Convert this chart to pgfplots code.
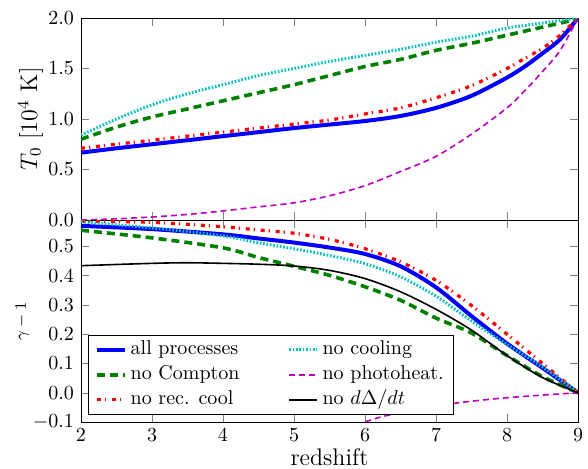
\documentclass[border=0pt]{standalone}
\usepackage{pgfplots}
\pgfplotsset{compat=1.18}
\definecolor{mplgreen}{rgb}{0,0.5,0}
\definecolor{mplcyan}{rgb}{0,0.75,0.75}
\definecolor{mplmag}{rgb}{0.75,0,0.75}
\tikzset{
  allp/.style={blue, line width=2pt},
  nocomp/.style={mplgreen, line width=1.8pt, dash pattern=on 4pt off 2.5pt},
  norec/.style={red, line width=1.6pt, dash pattern=on 2pt off 2pt on 0.6pt off 2.9pt},
  nocool/.style={mplcyan, line width=1.5pt, dash pattern=on 0.8pt off 0.9pt},
  nophot/.style={mplmag, line width=0.8pt, dash pattern=on 3pt off 2pt},
  nodd/.style={black, line width=0.8pt},
}
\pgfplotsset{
  panel/.style={
    width=248.5pt, height=101pt, scale only axis,
    xmin=2, xmax=9, xtick={2,3,4,5,6,7,8,9},
    tick align=inside, major tick length=4pt,
    yticklabel style={/pgf/number format/.cd, fixed, fixed zerofill, precision=1},
    every axis plot/.append style={smooth, tension=0.5},
  }
}
\begin{document}
\begin{tikzpicture}
% upper panel: T_0
\begin{axis}[panel, at={(0pt,101pt)}, ymin=0, ymax=2, ytick={0,0.5,1,1.5,2},
  xticklabels={},
  ylabel={$T_0\ [10^4\ \mathrm{K}]$},
  every axis y label/.style={at={(axis description cs:-0.0885,0.5)}, rotate=90, anchor=base, font=\large}]
\addplot[allp] coordinates {(2,0.667) (2.5,0.71) (3,0.75) (3.5,0.79) (4,0.83) (4.5,0.87) (5,0.91) (5.5,0.945) (6,0.98) (6.5,1.03) (7,1.11) (7.5,1.23) (8,1.41) (8.25,1.52) (8.5,1.65) (8.75,1.79) (9,2.0)};
\addplot[nocomp] coordinates {(2,0.80) (2.5,0.92) (3,1.02) (3.5,1.10) (4,1.18) (4.5,1.26) (5,1.34) (5.5,1.43) (6,1.52) (6.5,1.59) (7,1.68) (7.5,1.75) (8,1.83) (8.5,1.91) (9,1.99)};
\addplot[norec] coordinates {(2,0.71) (2.5,0.75) (3,0.79) (3.5,0.83) (4,0.87) (4.5,0.91) (5,0.95) (5.5,0.99) (6,1.05) (6.5,1.11) (7,1.21) (7.5,1.33) (8,1.50) (8.25,1.60) (8.5,1.70) (8.75,1.83) (9,2.0)};
\addplot[nocool] coordinates {(2,0.84) (2.5,1.00) (3,1.14) (3.5,1.25) (4,1.34) (4.5,1.43) (5,1.50) (5.5,1.57) (6,1.63) (6.5,1.69) (7,1.76) (7.5,1.82) (8,1.90) (8.5,1.95) (9,2.0)};
\addplot[nophot] coordinates {(2,0.0) (2.5,0.012) (3,0.03) (3.5,0.055) (4,0.09) (4.5,0.13) (5,0.17) (5.5,0.24) (6,0.34) (6.5,0.48) (7,0.63) (7.5,0.85) (8,1.11) (8.25,1.28) (8.5,1.47) (8.75,1.68) (9,2.0)};
\end{axis}
% lower panel: gamma - 1
\begin{axis}[panel, at={(0pt,0pt)}, ymin=-0.1, ymax=0.59, ytick={-0.1,0,0.1,0.2,0.3,0.4,0.5},
  xlabel={redshift}, ylabel={$\gamma-1$},
  every axis x label/.style={at={(axis description cs:0.5,0)}, anchor=base, yshift=-21.5pt, font=\large},
  every axis y label/.style={at={(axis description cs:-0.1107,0.5)}, rotate=90, anchor=base, font=\fontsize{8.5}{10}\selectfont},
  legend cell align=left,
  legend image code/.code={\draw[#1] (0pt,0pt) -- (14pt,0pt);},
  legend style={at={(0.0147,0.038)}, anchor=south west, legend columns=2, draw=black, fill=white,
    font=\normalsize, inner ysep=2pt, /tikz/row sep=2.3pt,
    nodes={inner ysep=0.6pt, text height=7pt, text depth=2pt},
    /tikz/every even column/.append style={column sep=22pt}}]
\addplot[allp, forget plot] coordinates {(2,0.570) (3,0.559) (4,0.541) (4.5,0.527) (5,0.513) (5.5,0.496) (6,0.474) (6.5,0.432) (7,0.360) (7.5,0.262) (8,0.168) (8.5,0.085) (9,0.0)};
\addplot[nocomp, forget plot] coordinates {(2,0.555) (3,0.529) (4,0.495) (4.5,0.462) (5,0.432) (5.5,0.401) (6,0.362) (6.5,0.316) (7,0.255) (7.5,0.204) (8,0.127) (8.5,0.055) (9,0.0)};
\addplot[norec, forget plot] coordinates {(2,0.586) (3,0.582) (4,0.567) (4.5,0.556) (5,0.545) (5.5,0.524) (6,0.492) (6.5,0.447) (7,0.384) (7.5,0.298) (8,0.200) (8.5,0.100) (9,0.0)};
\addplot[nocool, forget plot] coordinates {(2,0.584) (3,0.563) (4,0.536) (4.5,0.512) (5,0.492) (5.5,0.469) (6,0.441) (6.5,0.396) (7,0.330) (7.5,0.245) (8,0.165) (8.5,0.088) (9,0.0)};
\addplot[nophot, forget plot] coordinates {(5.5,-0.16) (5.75,-0.125) (6,-0.10) (6.25,-0.081) (6.5,-0.069) (7,-0.045) (7.5,-0.029) (8,-0.017) (8.5,-0.008) (9,0.0)};
\addplot[nodd, forget plot] coordinates {(2,0.434) (3,0.442) (3.5,0.444) (4,0.442) (4.5,0.439) (5,0.433) (5.5,0.418) (6,0.390) (6.5,0.345) (7,0.285) (7.5,0.214) (8,0.127) (8.5,0.052) (9,0.0)};
\addlegendimage{allp}\addlegendentry{all processes}
\addlegendimage{nocool}\addlegendentry{no cooling}
\addlegendimage{nocomp}\addlegendentry{no Compton}
\addlegendimage{nophot}\addlegendentry{no photoheat.}
\addlegendimage{norec}\addlegendentry{no rec. cool}
\addlegendimage{nodd}\addlegendentry{no $d\Delta/dt$}
\end{axis}
\pgfresetboundingbox
\useasboundingbox (-40.5pt,-23pt) rectangle (253.5pt,211pt);
\end{tikzpicture}
\end{document}
